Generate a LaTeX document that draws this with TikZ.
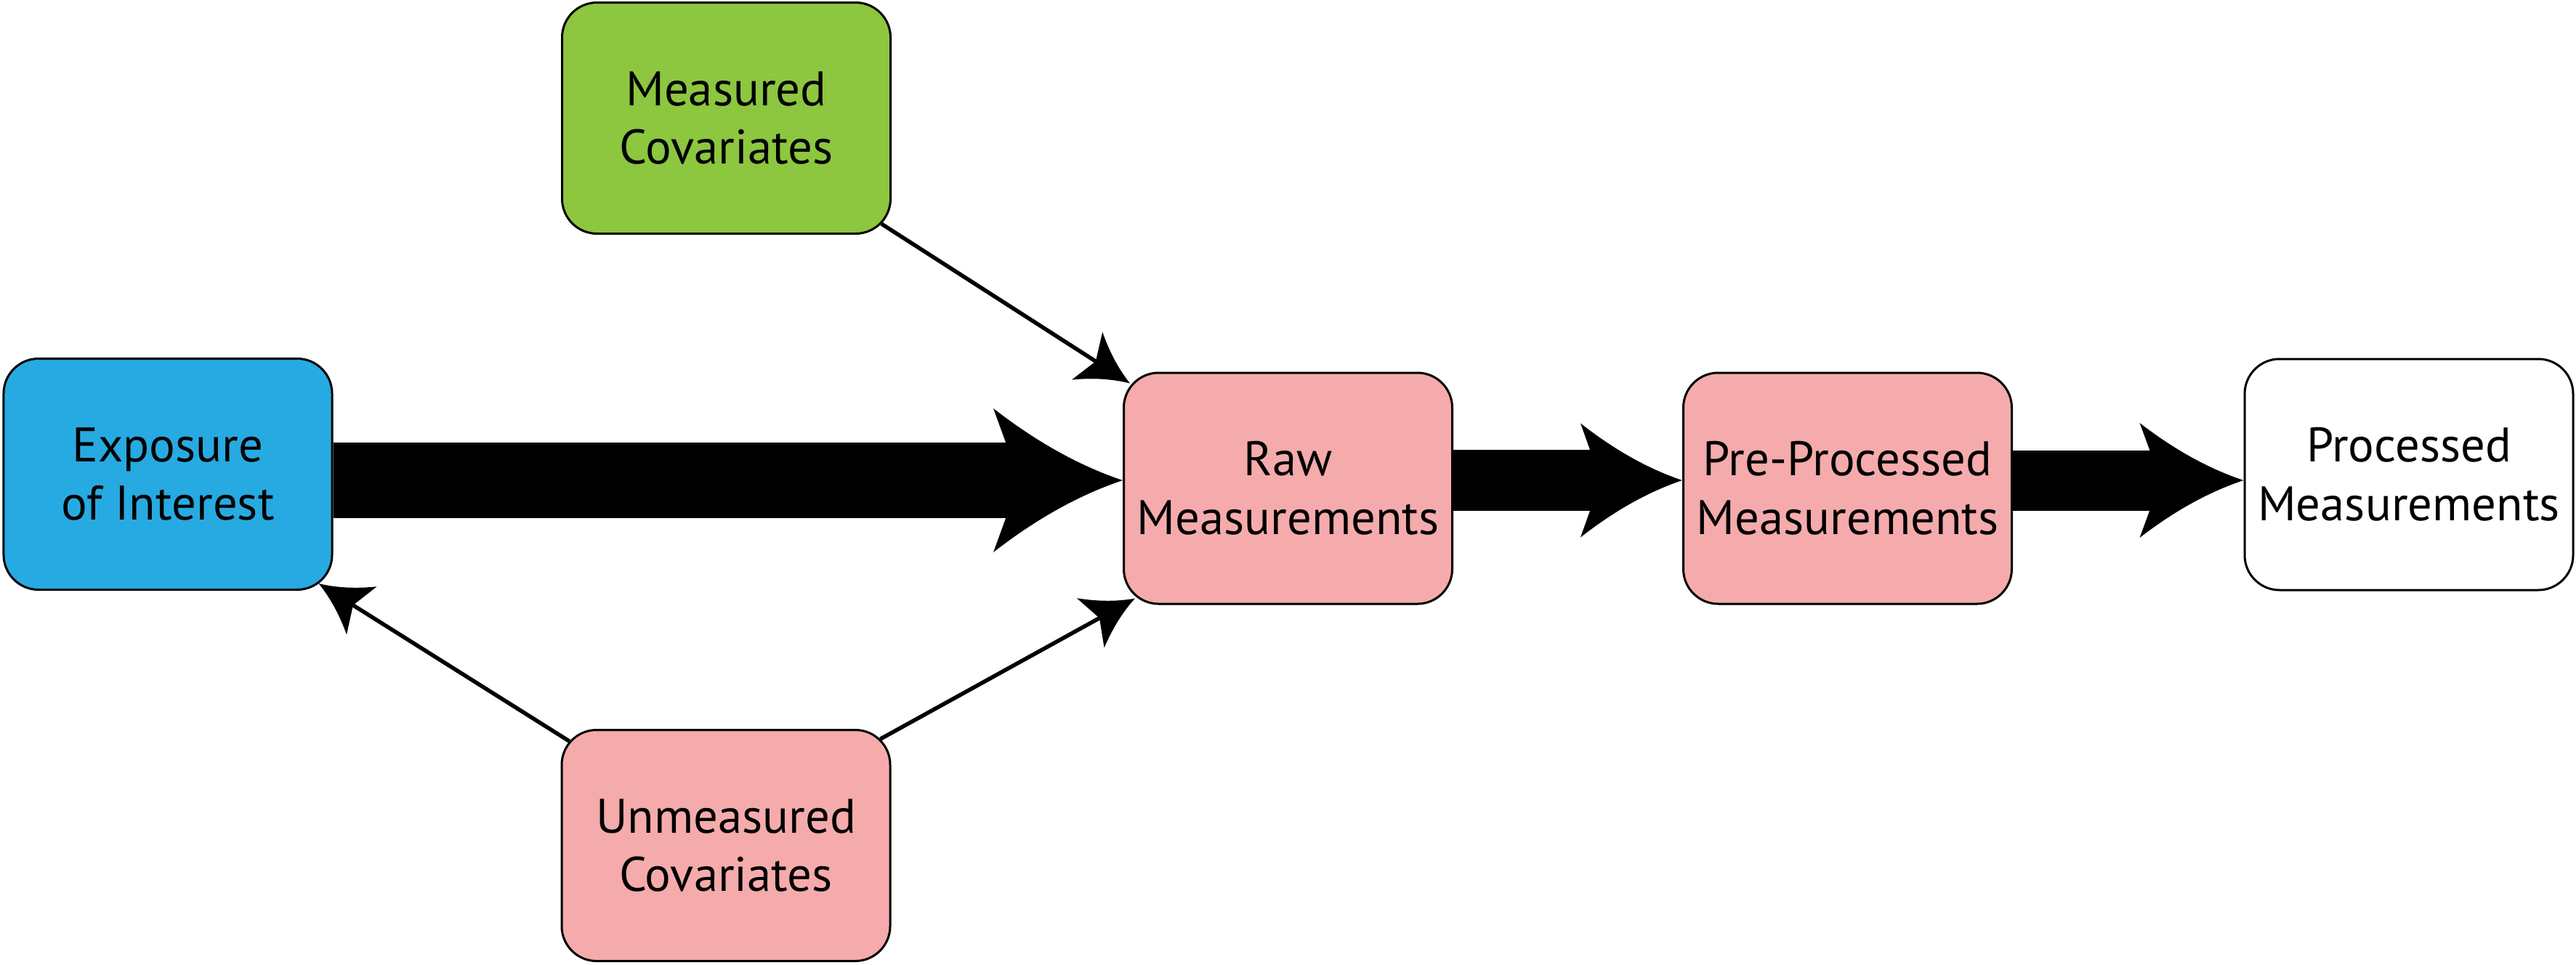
\documentclass[tikz,border=0pt]{standalone}
\usepackage{fontspec}
\setmainfont{PT Sans}
\usetikzlibrary{arrows.meta,calc}
\makeatletter
\pgfdeclarearrow{
  name = Swept,
  parameters = {\the\pgfarrowlength,\the\pgfarrowwidth,\the\pgfarrowinset},
  setup code = {
    \pgfarrowssettipend{0pt}
    \pgfarrowssetbackend{-\pgfarrowlength}
    \pgfarrowssetlineend{-0.75\pgfarrowlength}
    \pgfarrowssavethe\pgfarrowlength
    \pgfarrowssavethe\pgfarrowwidth
    \pgfarrowssavethe\pgfarrowinset
  },
  drawing code = {
    \pgfpathmoveto{\pgfpointorigin}
    \pgfpathcurveto{\pgfpoint{-0.333\pgfarrowlength}{0.1\pgfarrowwidth}}{\pgfpoint{-0.667\pgfarrowlength}{0.267\pgfarrowwidth}}{\pgfpoint{-\pgfarrowlength}{0.5\pgfarrowwidth}}
    \pgf@xa=-\pgfarrowlength
    \advance\pgf@xa by \pgfarrowinset
    \pgfpathlineto{\pgfqpoint{\pgf@xa}{0pt}}
    \pgfpathlineto{\pgfpoint{-\pgfarrowlength}{-0.5\pgfarrowwidth}}
    \pgfpathcurveto{\pgfpoint{-0.667\pgfarrowlength}{-0.267\pgfarrowwidth}}{\pgfpoint{-0.333\pgfarrowlength}{-0.1\pgfarrowwidth}}{\pgfpointorigin}
    \pgfpathclose
    \pgfusepathqfill
  },
  defaults = {length=1cm, width=1cm, inset=0.2cm}
}
\makeatother
\definecolor{boxgreen}{HTML}{8DC63F}
\definecolor{boxblue}{HTML}{27AAE1}
\definecolor{boxpink}{HTML}{F5ABAB}
\begin{document}
\begin{tikzpicture}[
  box/.style={draw=black, line width=0.03cm, rounded corners=0.48cm, minimum width=4.52cm, minimum height=3.18cm, align=center, inner sep=0pt, font=\fontsize{19}{23}\selectfont},
  thinarrow/.style={line width=0.055cm, -{Swept[length=0.70cm,width=0.78cm,inset=0.14cm]}},
]
\useasboundingbox (0,0) rectangle (35.45,-13.27);
\node[box, fill=boxgreen] (meas) at (9.995,-1.625) {Measured\\Covariates};
\node[box, fill=boxblue] (exp) at (2.31,-6.525) {Exposure\\of Interest};
\node[box, fill=boxpink] (raw) at (17.725,-6.72) {Raw\\Measurements};
\node[box, fill=boxpink] (pre) at (25.425,-6.72) {Pre-Processed\\Measurements};
\node[box, fill=white] (proc) at (33.15,-6.53) {Processed\\Measurements};
\node[box, fill=boxpink] (unm) at (9.99,-11.635) {Unmeasured\\Covariates};
\coordinate (axis) at (0,-6.61);
\draw[line width=1.04cm, -{Swept[length=1.78cm,width=1.98cm,inset=0.36cm]}] (exp.east |- axis) -- (raw.west |- axis);
\draw[line width=0.84cm, -{Swept[length=1.40cm,width=1.57cm,inset=0.28cm]}] (raw.east |- axis) -- (pre.west |- axis);
\draw[line width=0.83cm, -{Swept[length=1.43cm,width=1.58cm,inset=0.29cm]}] (pre.east |- axis) -- (proc.west |- axis);
\draw[thinarrow] ($(meas.south east)+(-0.14,0.15)$) -- ($(raw.north west)+(0.10,-0.16)$);
\draw[thinarrow] ($(unm.north west)+(0.12,-0.17)$) -- ($(exp.south east)+(-0.20,0.10)$);
\draw[thinarrow] ($(unm.north east)+(-0.15,-0.14)$) -- ($(raw.south west)+(0.17,0.09)$);
\end{tikzpicture}
\end{document}
